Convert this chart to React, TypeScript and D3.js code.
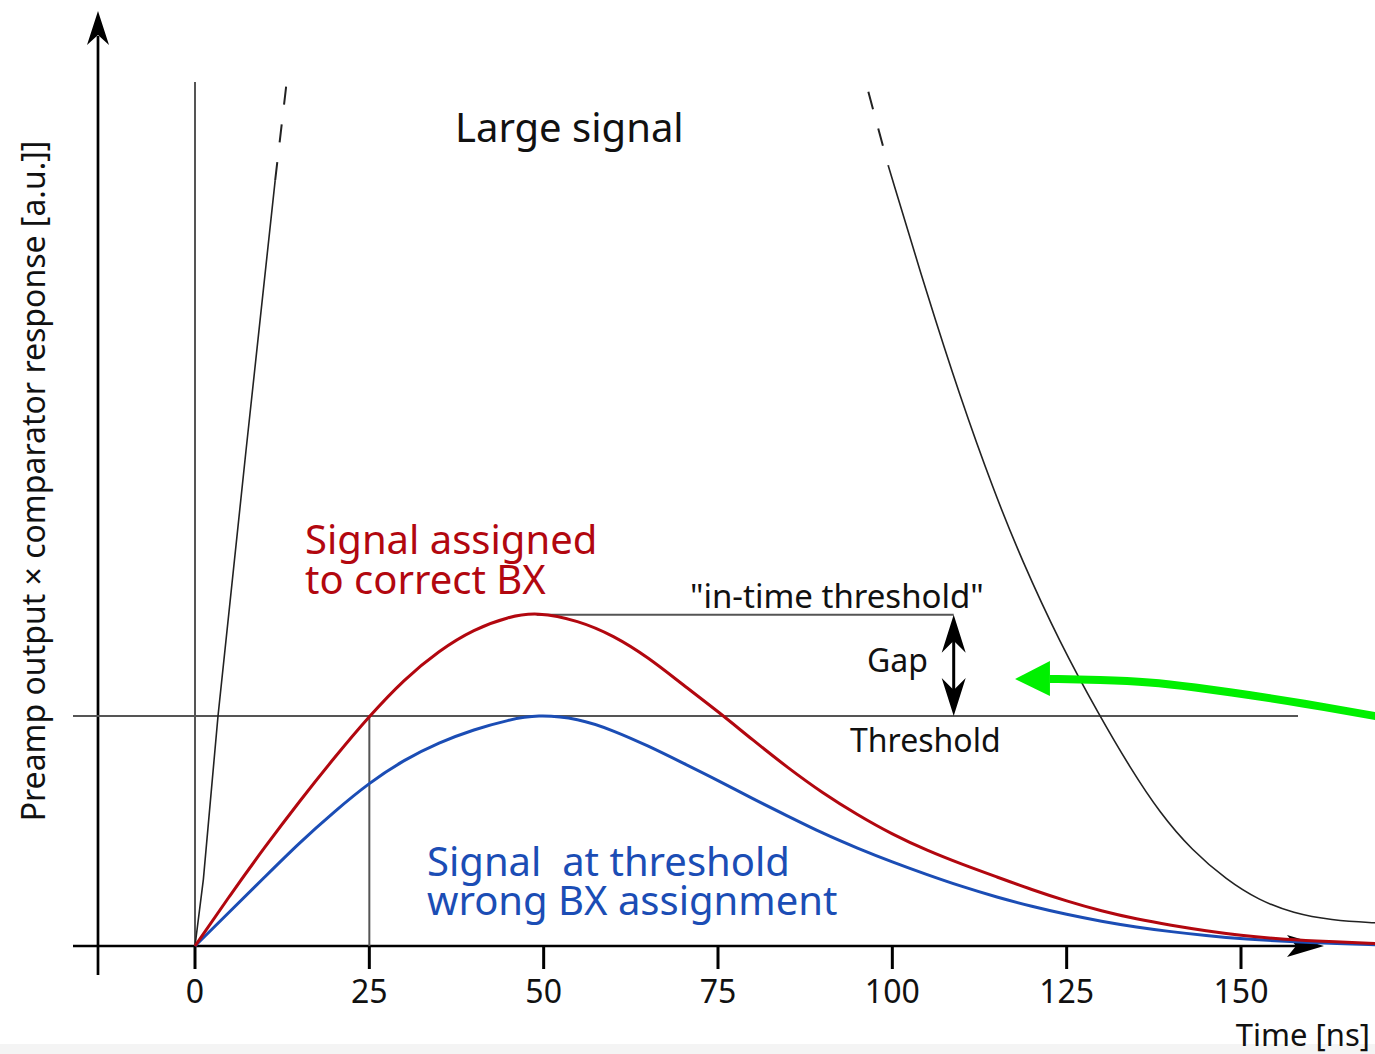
import React from "react";
import * as d3 from "d3";

// ---- data (time in ns, amplitude in units of the threshold) ----
const xTicks = [0, 25, 50, 75, 100, 125, 150];
const thresholdLevel = 1.0;
const inTimeLevel = 1.44;
const assignTime = 25;

const correctT = [0, 5, 10, 15, 20, 25, 30, 35, 40, 45, 49, 55, 60, 65, 70, 75, 80, 85, 90, 95, 100, 105, 110, 115, 120, 125, 130, 135, 140, 145, 150, 155, 160, 170];
const correctA = [0, 0.22, 0.43, 0.63, 0.82, 1.0, 1.16, 1.285, 1.378, 1.432, 1.452, 1.415, 1.35, 1.255, 1.135, 1.02, 0.895, 0.775, 0.665, 0.57, 0.485, 0.415, 0.355, 0.3, 0.245, 0.195, 0.152, 0.117, 0.09, 0.066, 0.046, 0.032, 0.022, 0.01];

const wrongT = [0, 5, 10, 15, 20, 25, 30, 35, 40, 45, 49, 55, 60, 65, 70, 75, 80, 85, 90, 95, 100, 105, 110, 115, 120, 125, 130, 135, 140, 145, 150, 160, 170];
const wrongA = [0, 0.15, 0.3, 0.45, 0.585, 0.71, 0.81, 0.885, 0.942, 0.983, 1.006, 0.99, 0.937, 0.87, 0.795, 0.72, 0.64, 0.565, 0.49, 0.425, 0.365, 0.31, 0.258, 0.212, 0.172, 0.137, 0.107, 0.082, 0.062, 0.045, 0.031, 0.014, 0.005];

const largeRiseT = [0, 1.2, 3.3, 7.3, 11.5];
const largeRiseA = [0, 0.29, 1.0, 2.15, 3.33];
const largeRiseDashT = [11.5, 13.2];
const largeRiseDashA = [3.33, 3.77];

const largeFallDashT = [96.56, 99.43];
const largeFallDashA = [3.714, 3.391];
const largeFallT = [99.43, 104.93, 109.71, 114.49, 118.56, 124.0, 129.79, 134.0, 138.39, 143.0, 147.96, 152.5, 157.51, 163.0, 168.75, 172];
const largeFallA = [3.391, 2.838, 2.388, 1.983, 1.678, 1.32, 0.997, 0.78, 0.577, 0.415, 0.287, 0.2, 0.142, 0.112, 0.101, 0.099];

const greenT = [122.6, 129.8, 137.0, 143.1, 151.3, 158.5, 169.2, 172];
const greenA = [1.161, 1.157, 1.148, 1.126, 1.091, 1.057, 1.0, 0.985];
const greenTipT = 117.6;

const FONT = "'Noto Sans', 'Open Sans', sans-serif";
const RED = "#b2070f";
const BLUE = "#1b4db5";
const GRAY = "#555";
const GREEN = "#00f000";

export default function App() {
  const x = d3.scaleLinear().domain([0, 150]).range([195, 1241]);
  const y = d3.scaleLinear().domain([0, 1]).range([946, 716]);

  const line = (ts: number[], as: number[], curve: any = d3.curveBasis) =>
    d3
      .line<number>()
      .x((_, i) => x(ts[i]))
      .y((_, i) => y(as[i]))
      .curve(curve)(ts) as string;

  const x0 = x(0);
  const yBase = y(0);
  const yThr = y(thresholdLevel);
  const yIn = y(inTimeLevel);
  const gapX = x(108.8);

  // arrowhead path (pointing up, tip at 0,0)
  const headUp = (w: number, h: number, notch: number) =>
    `M0,0 L${w / 2},${h} L0,${h - notch} L${-w / 2},${h} Z`;

  const gTipX = x(greenTipT);
  const gBaseX = x(greenT[0]);
  const gY = y(greenA[0]);

  return (
    <svg
      width={1375}
      height={1054}
      style={{ position: "absolute", left: 0, top: 0, background: "#fff" }}
      fontFamily={FONT}
    >
      <rect x={0} y={1044} width={1375} height={10} fill="#f4f4f4" />

      {/* y axis */}
      <line x1={98} y1={975} x2={98} y2={36} stroke="#000" strokeWidth={2.7} />
      <path d={headUp(22, 34, 10)} transform={`translate(98,11)`} fill="#000" />

      {/* x axis */}
      <line x1={73} y1={yBase} x2={1300} y2={yBase} stroke="#000" strokeWidth={2.7} />
      <path d={headUp(22, 37, 9)} transform={`translate(1324,${yBase}) rotate(90)`} fill="#000" />
      {xTicks.map((t) => (
        <g key={t}>
          <line x1={x(t)} y1={yBase} x2={x(t)} y2={yBase + 23} stroke="#000" strokeWidth={3} />
          <text x={x(t)} y={1003} textAnchor="middle" fontSize={32} fill="#111">
            {t}
          </text>
        </g>
      ))}
      <text x={1370} y={1046} textAnchor="end" fontSize={31} fill="#111">
        Time [ns]
      </text>
      <text
        transform={`translate(45,481) rotate(-90)`}
        textAnchor="middle"
        fontSize={32}
        fill="#111"
      >
        Preamp output × comparator response [a.u.]]
      </text>

      {/* reference lines */}
      <line x1={x0} y1={yBase} x2={x0} y2={82} stroke={GRAY} strokeWidth={2} />
      <line x1={73} y1={yThr} x2={1298} y2={yThr} stroke={GRAY} strokeWidth={2.2} />
      <line x1={x(49)} y1={yIn} x2={gapX} y2={yIn} stroke={GRAY} strokeWidth={2} />
      <line x1={x(assignTime)} y1={yThr} x2={x(assignTime)} y2={yBase} stroke={GRAY} strokeWidth={2} />

      {/* gap arrow */}
      <line x1={gapX} y1={yIn + 10} x2={gapX} y2={yThr - 10} stroke="#000" strokeWidth={3} />
      <path d={headUp(24, 38, 12)} transform={`translate(${gapX},${yIn})`} fill="#000" />
      <path d={headUp(24, 38, 12)} transform={`translate(${gapX},${yThr}) rotate(180)`} fill="#000" />

      {/* large signal */}
      <path d={line(largeRiseT, largeRiseA, d3.curveLinear)} fill="none" stroke="#222" strokeWidth={1.6} />
      <path d={line(largeRiseDashT, largeRiseDashA, d3.curveLinear)} fill="none" stroke="#222" strokeWidth={2} strokeDasharray="18,20" />
      <path d={line(largeFallDashT, largeFallDashA, d3.curveLinear)} fill="none" stroke="#222" strokeWidth={2} strokeDasharray="18,20" />
      <path d={line(largeFallT, largeFallA)} fill="none" stroke="#222" strokeWidth={1.6} />

      {/* signals */}
      <path d={line(wrongT, wrongA)} fill="none" stroke={BLUE} strokeWidth={3} />
      <path d={line(correctT, correctA)} fill="none" stroke={RED} strokeWidth={3} />

      {/* green arrow */}
      <path d={line(greenT, greenA)} fill="none" stroke={GREEN} strokeWidth={8} />
      <path
        d={`M${gTipX},${gY} L${gBaseX},${gY - 18} L${gBaseX},${gY + 17} Z`}
        fill={GREEN}
      />

      {/* annotations */}
      <text x={455} y={142} fontSize={40} fill="#111">Large signal</text>
      <text x={305} y={554} fontSize={40} fill={RED}>Signal assigned</text>
      <text x={305} y={594} fontSize={40} fill={RED}>to correct BX</text>
      <text x={427} y={876} fontSize={40} fill={BLUE} style={{ whiteSpace: "pre" }}>Signal  at threshold</text>
      <text x={427} y={915} fontSize={40} fill={BLUE}>wrong BX assignment</text>
      <text x={690} y={608} fontSize={33} fill="#111">"in-time threshold"</text>
      <text x={867} y={672} fontSize={32} fill="#111">Gap</text>
      <text x={850} y={752} fontSize={32} fill="#111">Threshold</text>
    </svg>
  );
}
